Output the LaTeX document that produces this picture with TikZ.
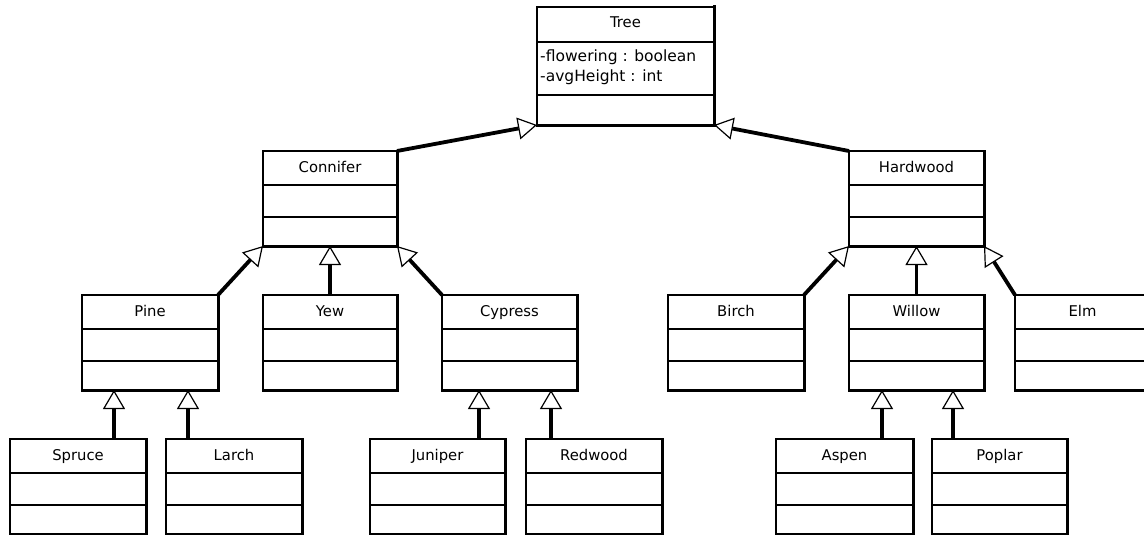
\documentclass[tikz,border=0pt]{standalone}
\usepackage{fontspec}
\setmainfont{DejaVu Sans}
\usetikzlibrary{arrows.meta,calc}

\tikzset{
  classbox/.style={draw, line width=1.3pt, inner sep=0pt, outer sep=0pt, anchor=north west, fill=white},
  divider/.style={line width=1.3pt},
  shadowedge/.style={line width=3pt, line join=miter, line cap=rect},
  classtitle/.style={font=\fontsize{14.8}{17}\selectfont, anchor=base, inner sep=0pt},
  attr/.style={font=\fontsize{15.5}{18}\selectfont, anchor=base west, inner sep=0pt},
  gen/.style={line width=3.8pt, -{Triangle[length=19pt, width=22pt, fill=white, line width=1.2pt]}},
}

% a class with an empty attribute and an empty operation compartment
\newcommand{\umlclass}[5]{% name, x, y, width, title
  \node[classbox, minimum width=#4pt, minimum height=95pt] (#1) at (#2,#3) {};
  \node[classtitle] (#1-title) at ($(#1.north)+(0pt,-21pt)$) {#5};
  \draw[divider] ($(#1.north west)+(0pt,-34pt)$) -- ($(#1.north east)+(0pt,-34pt)$);
  \draw[divider] ($(#1.north west)+(0pt,-66pt)$) -- ($(#1.north east)+(0pt,-66pt)$);
  \draw[shadowedge] (#1.north east) -- (#1.south east) -- (#1.south west);
}

\begin{document}
\begin{tikzpicture}[x=1pt, y=-1pt]
\clip (0,0) rectangle (1144,535);
\fill[white] (0,0) rectangle (1144,535);

% root class
\node[classbox, minimum width=177pt, minimum height=118pt] (Tree) at (537,7) {};
\node[classtitle] (Tree-title) at ($(Tree.north)+(0pt,-20.5pt)$) {Tree};
\draw[divider] ($(Tree.north west)+(0pt,-35pt)$) -- ($(Tree.north east)+(0pt,-35pt)$);
\node[attr] (Tree-a1) at ($(Tree.north west)+(3pt,-54.5pt)$) {-flowering : boolean};
\node[attr] (Tree-a2) at ($(Tree.north west)+(3pt,-74.5pt)$) {-avgHeight : int};
\draw[divider] ($(Tree.north west)+(0pt,-88pt)$) -- ($(Tree.north east)+(0pt,-88pt)$);
\draw[shadowedge] (Tree.north east) -- (Tree.south east) -- (Tree.south west);

% second level
\umlclass{Connifer}{263}{151}{134}{Connifer}
\umlclass{Hardwood}{849}{151}{135}{Hardwood}

% third level
\umlclass{Pine}{82}{295}{136}{Pine}
\umlclass{Yew}{263}{295}{134}{Yew}
\umlclass{Cypress}{442}{295}{135}{Cypress}
\umlclass{Birch}{668}{295}{136}{Birch}
\umlclass{Willow}{849}{295}{135}{Willow}
\umlclass{Elm}{1015}{295}{135}{Elm}

% leaves
\umlclass{Spruce}{10}{439}{136}{Spruce}
\umlclass{Larch}{166}{439}{136}{Larch}
\umlclass{Juniper}{370}{439}{135}{Juniper}
\umlclass{Redwood}{526}{439}{136}{Redwood}
\umlclass{Aspen}{776}{439}{137}{Aspen}
\umlclass{Poplar}{932}{439}{135}{Poplar}

% attachment points on the parents' bottom edges
\coordinate (pine-a) at ($(Pine.south west)+(32pt,0pt)$);
\coordinate (pine-b) at ($(Pine.south west)+(106pt,0pt)$);
\coordinate (cyp-a) at ($(Cypress.south west)+(37pt,0pt)$);
\coordinate (cyp-b) at ($(Cypress.south west)+(109pt,0pt)$);
\coordinate (wil-a) at ($(Willow.south west)+(33pt,0pt)$);
\coordinate (wil-b) at ($(Willow.south west)+(104pt,0pt)$);

% generalisations
\draw[gen] (Connifer.north east) -- (Tree.south west);
\draw[gen] (Hardwood.north west) -- (Tree.south east);

\draw[gen] (Pine.north east) -- (Connifer.south west);
\draw[gen] (Yew.north) -- (Connifer.south);
\draw[gen] (Cypress.north west) -- (Connifer.south east);

\draw[gen] (Birch.north east) -- (Hardwood.south west);
\draw[gen] (Willow.north) -- (Hardwood.south);
\draw[gen] (Elm.north west) -- (Hardwood.south east);

\draw[gen] (pine-a |- Spruce.north) -- (pine-a);
\draw[gen] (pine-b |- Larch.north) -- (pine-b);
\draw[gen] (cyp-a |- Juniper.north) -- (cyp-a);
\draw[gen] (cyp-b |- Redwood.north) -- (cyp-b);
\draw[gen] (wil-a |- Aspen.north) -- (wil-a);
\draw[gen] (wil-b |- Poplar.north) -- (wil-b);
\end{tikzpicture}
\end{document}
